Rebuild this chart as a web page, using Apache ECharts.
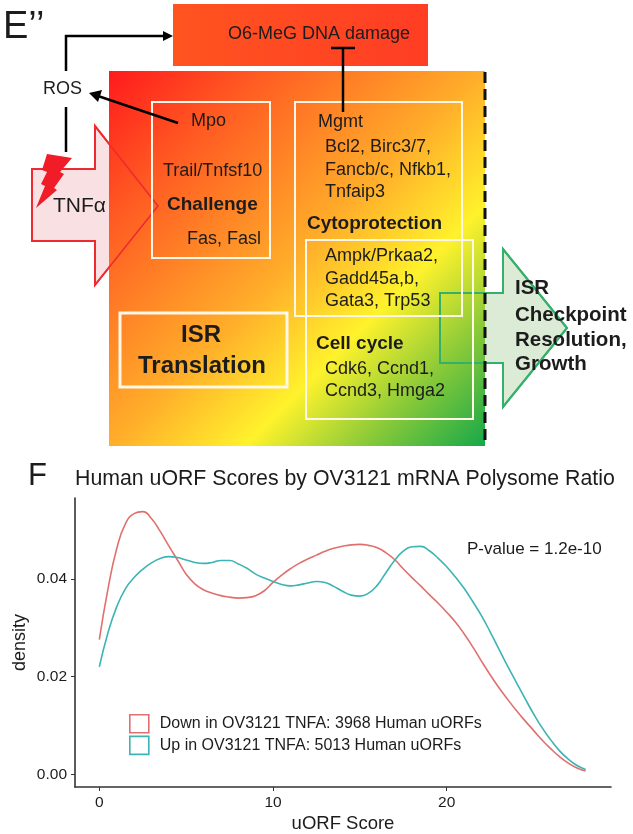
<!DOCTYPE html>
<html><head><meta charset="utf-8">
<style>html,body{margin:0;padding:0;background:#fff}#c{width:633px;height:834px}</style>
<script src="https://cdn.jsdelivr.net/npm/echarts@6/dist/echarts.min.js"></script>
</head><body><div id="c"></div>
<script>
const scores=[0,.5,1,1.5,2,2.5,3,3.5,4,4.5,5,5.5,6,6.5,7,7.5,8,8.5,9,9.5,10,10.5,11,11.5,12,12.5,13,13.5,14,14.5,15,15.5,16,16.5,17,17.5,18,18.5,19,19.5,20,20.5,21,21.5,22,22.5,23,23.5,24,24.5,25,25.5,26,26.5,27,27.5,28];
const downDensity=[.0276,.0380,.0462,.0513,.0534,.0538,.0524,.0498,.0468,.0439,.0410,.0390,.0378,.0371,.0366,.0363,.0361,.0362,.0366,.0376,.0393,.0408,.0421,.0432,.0441,.0449,.0457,.0463,.0467,.0470,.0471,.0469,.0464,.0454,.0440,.0421,.0403,.0386,.0368,.0351,.0332,.0312,.0288,.0261,.0232,.0204,.0178,.0154,.0131,.0110,.0090,.0070,.0052,.0036,.0023,.0013,.0007];
const upDensity=[.0220,.0290,.0343,.0380,.0403,.0420,.0433,.0442,.0446,.0444,.0439,.0434,.0432,.0434,.0438,.0438,.0431,.0422,.0410,.0402,.0395,.0389,.0386,.0388,.0392,.0395,.0393,.0385,.0375,.0367,.0365,.0371,.0387,.0413,.0438,.0457,.0466,.0467,.0458,.0443,.0425,.0404,.0381,.0354,.0325,.0292,.0257,.0222,.0189,.0156,.0124,.0095,.0070,.0048,.0031,.0018,.0010];
const seriesNames=['Down in OV3121 TNFA: 3968 Human uORFs','Up in OV3121 TNFA: 5013 Human uORFs'];
const xTicks=[0,10,20];
const yTicks=[0,0.02,0.04];
const FONT='"Liberation Sans", Arial, sans-serif';
const INK='#1c1c1c';
const plainLabels=[
 ['ROS',43,89,18],['Mpo',191,121,18],['Trail/Tnfsf10',163,171,18],['Fas, Fasl',187,239,18],
 ['Mgmt',318,122,18],['Bcl2, Birc3/7,',325,147,18],['Fancb/c, Nfkb1,',325,170,18],['Tnfaip3',325,192,18],
 ['Ampk/Prkaa2,',325,256,18],['Gadd45a,b,',325,279,18],['Gata3, Trp53',325,301,18],
 ['Cdk6, Ccnd1,',325,369,18],['Ccnd3, Hmga2',325,391,18],['O6-MeG DNA damage',228,34,18],
 ['TNF\u03b1',53,206,21],['P-value = 1.2e-10',467,549,17],
 ['E\u2019\u2019',3,28,38],['F',28,476,31],
 ['Human uORF Scores by OV3121 mRNA Polysome Ratio',75,479,21.3]
];
const boldLabels=[
 ['Challenge',167,205,19],['Cytoprotection',307,224,19],['Cell cycle',316,344,19],
 ['ISR',181,335,24],['Translation',138,366,24],
 ['ISR',515,288,20.5],['Checkpoint',515,315,20.5],['Resolution,',515,340,20.5],['Growth',515,364,20.5]
];
const tnfArrow=[[32,169],[95,169],[95,126],[158,206],[95,285],[95,241],[32,241]];
const isrArrow=[[440,293],[503,293],[503,249],[567,328],[503,407],[503,363],[440,363]];
const bolt=[[47,154],[72,158],[60,172],[64,174],[54,188],[57,190],[36,208],[45,186],[41,184],[47,172],[42,170]];
const whiteBoxes=[[152,102,118,156,2],[295,102,167,214,2],[306,240,167,179,2],[120,313,167,74,3]];
const blackLines=[
 [[66,71],[66,36],[165,36]],[[66,107],[66,152]],[[343,112],[343,48]],[[331,48],[355,48]],[[178,123],[98,96]]
];
const arrowHeads=[[[173,36],[163,31],[163,41]],[[89,93],[102,90],[98,102]]];

const g=[];
const poly=(p,style)=>g.push({type:'polygon',shape:{points:p},style});
const line=(p,style)=>g.push({type:'polyline',shape:{points:p},style:Object.assign({fill:null},style)});
poly(tnfArrow,{fill:'#f9e0e3',stroke:'#ee2a30',lineWidth:2});
poly(isrArrow,{fill:'#dcebd6',stroke:'#35b06a',lineWidth:2});
g.push({type:'rect',shape:{x:173,y:4,width:255,height:62},style:{fill:{type:'linear',x:0,y:0,x2:1,y2:0,colorStops:[{offset:0,color:'#ff5420'},{offset:1,color:'#ff3d24'}]}}});
g.push({type:'rect',shape:{x:109,y:71,width:376,height:375},style:{fill:{type:'linear',x:0,y:0,x2:1,y2:1,colorStops:[
 {offset:0,color:'#ff1a1c'},{offset:.2,color:'#ff5a22'},{offset:.5,color:'#ffae2a'},{offset:.68,color:'#fff22c'},{offset:.83,color:'#8ecb38'},{offset:1,color:'#16a84a'}]}}});
poly(tnfArrow,{fill:null,stroke:'#ee2a30',lineWidth:1.6});
poly(isrArrow,{fill:null,stroke:'#35b06a',lineWidth:2});
whiteBoxes.forEach(b=>g.push({type:'rect',shape:{x:b[0],y:b[1],width:b[2],height:b[3]},style:{fill:null,stroke:'#fff8e8',lineWidth:b[4]}}));
line([[485,72],[485,446]],{stroke:'#111',lineWidth:3,lineDash:[11,6]});
blackLines.forEach(p=>line(p,{stroke:'#000',lineWidth:2.5}));
arrowHeads.forEach(p=>poly(p,{fill:'#000'}));
poly(bolt,{fill:'#f01c28'});
const txt=(t,w)=>g.push({type:'text',style:{text:t[0],x:t[1],y:t[2],fontSize:t[3],fontFamily:FONT,fontWeight:w,fill:INK,textVerticalAlign:'middle'}});
plainLabels.forEach(t=>txt(t,'normal'));
boldLabels.forEach(t=>txt(t,'bold'));

const pairs=(a,b)=>a.map((v,i)=>[v,b[i]]);
const COLORS=['#e0706e','#3cb4b4'];
const chart=echarts.init(document.getElementById('c'),null,{renderer:'canvas'});
const axisCommon={
 axisLine:{show:true,onZero:false,lineStyle:{color:'#333',width:1.6}},
 splitLine:{show:false},
 nameMoveOverlap:false,
};
chart.setOption({
 animation:false,backgroundColor:'#fff',
 grid:{left:75,right:22,top:498,bottom:47,outerBoundsMode:'none'},
 legend:{orient:'vertical',left:129,top:714,padding:0,itemWidth:19,itemHeight:18,itemGap:2,icon:'rect',
  selectedMode:false,textStyle:{fontFamily:FONT,fontSize:16,color:INK,padding:[0,0,0,6]},
  data:seriesNames.map((n,i)=>({name:n,itemStyle:{color:'#fff',borderColor:COLORS[i],borderWidth:1.6}}))},
 xAxis:Object.assign({},axisCommon,{type:'value',min:-1.4,max:29.46,name:'uORF Score',nameLocation:'middle',nameGap:27,
  nameTextStyle:{fontFamily:FONT,fontSize:18.5,color:INK},
  axisTick:{show:true,customValues:xTicks,length:4,lineStyle:{color:'#333'}},
  axisLabel:{customValues:xTicks,fontFamily:FONT,fontSize:15.5,color:INK,margin:8,showMinLabel:true,showMaxLabel:true}}),
 yAxis:Object.assign({},axisCommon,{type:'value',min:-0.0026,max:0.0566,name:'density',nameLocation:'middle',nameGap:46,
  nameTextStyle:{fontFamily:FONT,fontSize:18,color:INK},
  axisTick:{show:true,customValues:yTicks,length:4,lineStyle:{color:'#333'}},
  axisLabel:{customValues:yTicks,fontFamily:FONT,fontSize:15.5,color:INK,margin:8,formatter:v=>v.toFixed(2)}}),
 series:[
  {name:seriesNames[0],type:'line',data:pairs(scores,downDensity),smooth:.5,showSymbol:false,symbol:'none',lineStyle:{color:COLORS[0],width:1.6},itemStyle:{color:COLORS[0]}},
  {name:seriesNames[1],type:'line',data:pairs(scores,upDensity),smooth:.5,showSymbol:false,symbol:'none',lineStyle:{color:COLORS[1],width:1.6},itemStyle:{color:COLORS[1]}}
 ],
 graphic:{elements:g}
});
</script></body></html>
